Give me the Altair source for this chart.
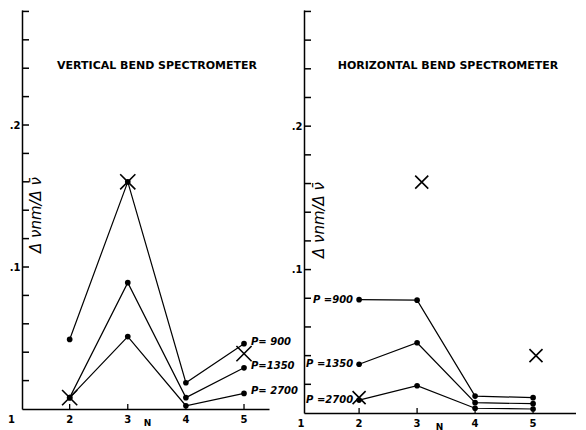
import altair as alt
import pandas as pd

# ---- data ----
N = [2, 3, 4, 5]
series_names = ["900", "1350", "2700"]

# Vertical bend spectrometer
v_p900 = [0.049, 0.160, 0.0185, 0.046]
v_p1350 = [0.008, 0.089, 0.008, 0.029]
v_p2700 = [0.008, 0.051, 0.0023, 0.011]
v_cross_n = [2, 3, 5]
v_cross_val = [0.008, 0.160, 0.039]
v_labels = ["P= 900", "P=1350", "P= 2700"]

# Horizontal bend spectrometer
h_p900 = [0.079, 0.0787, 0.0118, 0.0107]
h_p1350 = [0.034, 0.049, 0.0072, 0.0065]
h_p2700 = [0.009, 0.019, 0.0033, 0.0028]
h_cross_n = [2.0, 3.08, 5.05]
h_cross_val = [0.0107, 0.161, 0.040]
h_labels = ["P =900", "P =1350", "P =2700"]

y_tick_values = [0.02, 0.04, 0.06, 0.08, 0.10, 0.12, 0.14, 0.16, 0.18, 0.20, 0.22, 0.24, 0.26, 0.28]
y_label_values = [0.1, 0.2]
x_label_values = [1, 2, 3, 4, 5]
x_label_text = ["1", "2", "3", "4", "5"]
x_inner_ticks = [2, 3, 4, 5]

FONT = "DejaVu Sans"
XPATH = "M -1 -1 L 1 1 M -1 1 L 1 -1"


def panel(vals, cross_n, cross_val, labels, title, width, height, xdom, label_side,
          title_x, ytitle_x, ytitle_y, n_x, cross_size):
    rows = []
    for name, series in zip(series_names, vals):
        for n, v in zip(N, series):
            rows.append({"N": n, "val": v, "series": name})
    df = pd.DataFrame(rows)
    xs = alt.Scale(domain=xdom, nice=False, zero=False)
    ys = alt.Scale(domain=[0, 0.281], nice=False, zero=False)
    xaxis = alt.Axis(values=x_inner_ticks, ticks=False, grid=False, labels=False,
                     domainColor="black", domainWidth=1.5,
                     title="N", titleX=n_x, titleY=13, titleBaseline="middle",
                     titleFontSize=9, titleFont=FONT, titleFontWeight="bold", titleColor="black")
    yaxis = alt.Axis(values=y_label_values, ticks=False, grid=False, labelPadding=2,
                     labelExpr="datum.value < 0.15 ? '.1' : '.2'",
                     labelFontSize=10, labelFontWeight="bold", labelFont=FONT,
                     labelColor="black", domainColor="black", domainWidth=1.5, title=None)
    x = alt.X("N:Q", scale=xs, axis=xaxis)
    y = alt.Y("val:Q", scale=ys, axis=yaxis)

    lines = alt.Chart(df).mark_line(color="black", strokeWidth=1.2).encode(x=x, y=y, detail="series:N")
    dots = alt.Chart(df).mark_circle(size=32, color="black", opacity=1).encode(x="N:Q", y="val:Q")

    cdf = pd.DataFrame({"N": cross_n, "val": cross_val})
    crosses = alt.Chart(cdf).mark_point(shape=XPATH, size=cross_size, filled=False,
                                        stroke="black", strokeWidth=1.6, opacity=1).encode(x="N:Q", y="val:Q")

    if label_side == "right":
        ldf = pd.DataFrame({"N": [N[-1]] * 3, "val": [s[-1] for s in vals], "lab": labels})
        labs = alt.Chart(ldf).mark_text(align="left", dx=7, dy=-2, fontSize=10, font=FONT,
                                        fontStyle="italic", fontWeight="bold", color="black").encode(
            x="N:Q", y="val:Q", text="lab:N")
    else:
        ldf = pd.DataFrame({"N": [N[0]] * 3, "val": [s[0] for s in vals], "lab": labels})
        labs = alt.Chart(ldf).mark_text(align="right", dx=-6, dy=0, fontSize=10, font=FONT,
                                        fontStyle="italic", fontWeight="bold", color="black").encode(
            x="N:Q", y="val:Q", text="lab:N")

    xldf = pd.DataFrame({"N": x_label_values, "lab": x_label_text})
    xlabs = alt.Chart(xldf).mark_text(fontSize=10, font=FONT, fontWeight="bold", color="black",
                                      baseline="middle", dy=11).encode(
        x="N:Q", y=alt.value(height), text="lab:N")

    ytdf = pd.DataFrame({"val": y_tick_values})
    yticks = alt.Chart(ytdf).mark_rule(color="black", strokeWidth=1.5).encode(
        y="val:Q", x=alt.value(0), x2=alt.value(7))
    xtdf = pd.DataFrame({"N": x_inner_ticks})
    xticks = alt.Chart(xtdf).mark_rule(color="black", strokeWidth=1.3).encode(
        x="N:Q", y=alt.value(height), y2=alt.value(height - 5))

    tdf = pd.DataFrame({"t": [title]})
    ttl = alt.Chart(tdf).mark_text(fontSize=11, font=FONT, fontWeight="bold", color="black").encode(
        text="t:N", x=alt.value(title_x), y=alt.value(56))

    ydf = pd.DataFrame({"t": ["Δ νnm/Δ ν̄"]})
    ytitle = alt.Chart(ydf).mark_text(fontSize=15, font=FONT, fontStyle="italic", angle=270,
                                      color="black").encode(
        text="t:N", x=alt.value(ytitle_x), y=alt.value(ytitle_y))

    return alt.layer(lines, dots, crosses, labs, xlabs, yticks, xticks, ttl, ytitle).properties(
        width=width, height=height)


left = panel([v_p900, v_p1350, v_p2700], v_cross_n, v_cross_val, v_labels,
             "VERTICAL BEND SPECTROMETER", 247, 399, [1.18, 5.43], "right",
             135, 14, 205, 125, 230)
right = panel([h_p900, h_p1350, h_p2700], h_cross_n, h_cross_val, h_labels,
              "HORIZONTAL BEND SPECTROMETER", 272, 403, [1.05, 5.74], "left",
              144, 15, 210, 135, 170)

chart = alt.hconcat(left, right, spacing=35, bounds="flush").properties(
    padding={"left": 0, "top": 2, "right": 0, "bottom": 0},
).configure(background="white").configure_view(strokeWidth=0, strokeOpacity=0)

chart.save("out.html", embed_options={"renderer": "svg", "actions": False})
